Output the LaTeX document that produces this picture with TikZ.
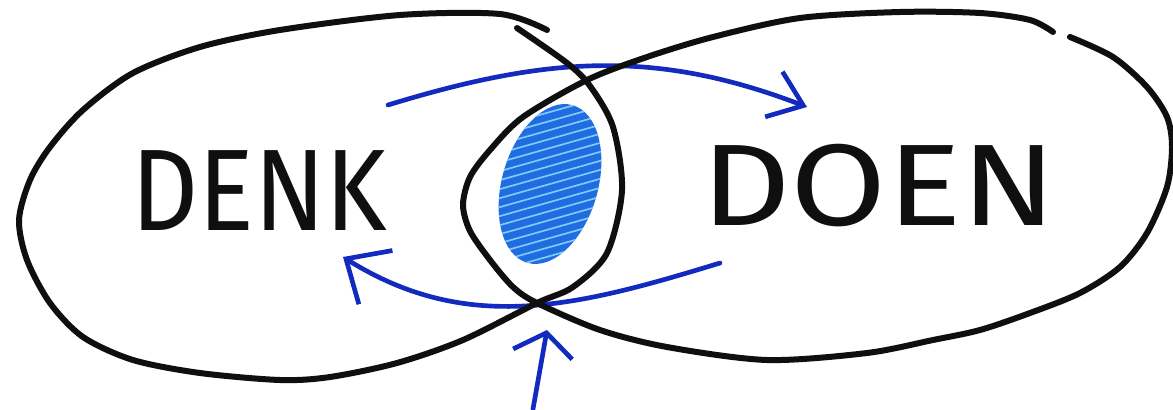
\documentclass[tikz,border=0pt]{standalone}
\usepackage{fontspec}
\setmainfont{Fira Sans}
\usepackage{tikz}
\usetikzlibrary{arrows.meta}
\definecolor{vnInk}{RGB}{15,15,15}
\definecolor{vnBlue}{RGB}{18,42,190}
\definecolor{vnFill}{RGB}{30,110,225}
\definecolor{vnLight}{RGB}{135,200,250}

\begin{document}
\begin{tikzpicture}[x=0.03cm, y=0.03cm,
  ink/.style={vnInk, line width=0.18cm, line cap=round, line join=round},
  pen/.style={vnBlue, line width=0.14cm, line cap=round},
  word/.style={font=\fontsize{99}{99}\selectfont, text=vnInk, inner sep=0pt}]
  \useasboundingbox (0,0) rectangle (1173,409);

  % Overlap (shaded)
  \begin{scope}
    \clip[rotate around={74:(550,225)}] (550,225) ellipse [x radius=82, y radius=48];
    \fill[vnFill] (440,120) rectangle (660,330);
    \foreach \k in {-14,...,14}
      \draw[vnLight, line width=0.05cm] (440,{225+9*\k-31}) -- (660,{225+9*\k+31});
  \end{scope}

  % Loop arrows
  \coordinate (topStart) at (388,304);
  \coordinate (topEnd) at (807,302);
  \coordinate (lowStart) at (720,146);
  \coordinate (lowEnd) at (343,152);
  \coordinate (upStart) at (533,0);
  \coordinate (upEnd) at (547,79);
  \draw[pen, -{Straight Barb[length=0.95cm, width=1.45cm]}] (topStart) to[out=17, in=159] (topEnd);
  \draw[pen, -{Straight Barb[length=1.05cm, width=1.9cm]}] (lowStart) to[out=197, in=-32] (lowEnd);
  \draw[pen, -{Straight Barb[length=0.65cm, width=1.8cm]}] (upStart) -- (upEnd);

  % Left ellipse
  \draw[ink] plot[smooth] coordinates {(517,381) (567,346) (590,323) (613,282) (622,219)
    (607,156) (573,122) (537,106) (463,69) (397,46) (330,32) (280,29) (200,36) (133,49)
    (83,72) (50,106) (27,149) (19,189) (30,229) (50,262) (83,299) (133,336) (200,362)
    (280,379) (400,394) (500,395) (547,379)};

  % Right ellipse
  \draw[ink] plot[smooth] coordinates {(1070,372) (1113,352) (1147,322) (1167,292) (1172,262)
    (1167,222) (1147,176) (1120,142) (1080,116) (1030,96) (980,79) (933,69) (867,56) (767,49)
    (667,62) (600,79) (537,106) (513,122) (490,149) (470,178) (463,204) (470,232) (490,259)
    (523,292) (587,329) (647,352) (713,372) (800,391) (900,397) (980,396) (1030,389) (1053,377)};

  % Labels
  \node[word, xscale=0.9] (denk) at (259,218) {DENK};
  \node[word, xscale=1.2] (doen) at (879,223) {DOEN};
\end{tikzpicture}
\end{document}
